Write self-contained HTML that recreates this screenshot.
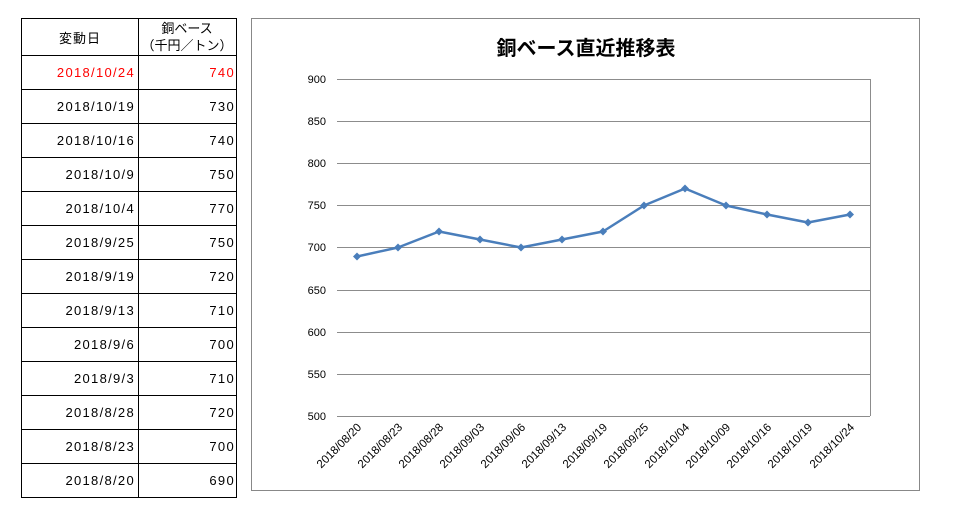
<!DOCTYPE html>
<html><head><meta charset="utf-8"><style>
body{margin:0;background:#fff;width:956px;height:522px;overflow:hidden;font-family:"Liberation Sans","Noto Sans CJK JP",sans-serif}
</style></head><body>
<svg width="956" height="522" xmlns="http://www.w3.org/2000/svg" style="position:absolute;left:0;top:0" font-family="Liberation Sans, Noto Sans CJK JP, sans-serif">
<g stroke="#000" stroke-width="1" fill="none">
<rect x="21.5" y="18.5" width="215" height="479"/>
<line x1="138.5" y1="18" x2="138.5" y2="497"/>
<line x1="21" y1="55.5" x2="237" y2="55.5"/>
<line x1="21" y1="89.5" x2="237" y2="89.5"/>
<line x1="21" y1="123.5" x2="237" y2="123.5"/>
<line x1="21" y1="157.5" x2="237" y2="157.5"/>
<line x1="21" y1="191.5" x2="237" y2="191.5"/>
<line x1="21" y1="225.5" x2="237" y2="225.5"/>
<line x1="21" y1="259.5" x2="237" y2="259.5"/>
<line x1="21" y1="293.5" x2="237" y2="293.5"/>
<line x1="21" y1="327.5" x2="237" y2="327.5"/>
<line x1="21" y1="361.5" x2="237" y2="361.5"/>
<line x1="21" y1="395.5" x2="237" y2="395.5"/>
<line x1="21" y1="429.5" x2="237" y2="429.5"/>
<line x1="21" y1="463.5" x2="237" y2="463.5"/>
</g>
<g font-size="13" fill="#000">
<text x="80" y="43" text-anchor="middle" letter-spacing="1">変動日</text>
<text x="187" y="33" text-anchor="middle">銅ベース</text>
<text x="187" y="50" text-anchor="middle">（千円／トン）</text>
<g text-anchor="end" letter-spacing="1.3">
<text x="135" y="77" fill="#f00">2018/10/24</text><text x="235" y="77" fill="#f00">740</text>
<text x="135" y="111">2018/10/19</text><text x="235" y="111">730</text>
<text x="135" y="145">2018/10/16</text><text x="235" y="145">740</text>
<text x="135" y="179">2018/10/9</text><text x="235" y="179">750</text>
<text x="135" y="213">2018/10/4</text><text x="235" y="213">770</text>
<text x="135" y="247">2018/9/25</text><text x="235" y="247">750</text>
<text x="135" y="281">2018/9/19</text><text x="235" y="281">720</text>
<text x="135" y="315">2018/9/13</text><text x="235" y="315">710</text>
<text x="135" y="349">2018/9/6</text><text x="235" y="349">700</text>
<text x="135" y="383">2018/9/3</text><text x="235" y="383">710</text>
<text x="135" y="417">2018/8/28</text><text x="235" y="417">720</text>
<text x="135" y="451">2018/8/23</text><text x="235" y="451">700</text>
<text x="135" y="485">2018/8/20</text><text x="235" y="485">690</text>
</g></g>
<rect x="251.5" y="18.5" width="668" height="472" fill="none" stroke="#888"/>
<text x="586" y="55" text-anchor="middle" font-size="20" font-weight="bold">銅ベース直近推移表</text>
<g stroke="#8c8c8c" stroke-width="1">
<line x1="337" y1="79.5" x2="870" y2="79.5"/>
<line x1="337" y1="121.5" x2="870" y2="121.5"/>
<line x1="337" y1="163.5" x2="870" y2="163.5"/>
<line x1="337" y1="205.5" x2="870" y2="205.5"/>
<line x1="337" y1="247.5" x2="870" y2="247.5"/>
<line x1="337" y1="290.5" x2="870" y2="290.5"/>
<line x1="337" y1="332.5" x2="870" y2="332.5"/>
<line x1="337" y1="374.5" x2="870" y2="374.5"/>
<line x1="337" y1="416.5" x2="870" y2="416.5"/>
<line x1="870.5" y1="79" x2="870.5" y2="416"/>
</g>
<g font-size="11" text-anchor="end" fill="#000">
<text x="326" y="83">900</text><text x="326" y="125">850</text><text x="326" y="167">800</text>
<text x="326" y="209">750</text><text x="326" y="251">700</text><text x="326" y="294">650</text>
<text x="326" y="336">600</text><text x="326" y="378">550</text><text x="326" y="420">500</text>
</g>
<g font-size="11.5" text-anchor="end" fill="#000">
<text transform="translate(362,428) rotate(-45)">2018/08/20</text>
<text transform="translate(403,428) rotate(-45)">2018/08/23</text>
<text transform="translate(444,428) rotate(-45)">2018/08/28</text>
<text transform="translate(485,428) rotate(-45)">2018/09/03</text>
<text transform="translate(526,428) rotate(-45)">2018/09/06</text>
<text transform="translate(567,428) rotate(-45)">2018/09/13</text>
<text transform="translate(608,428) rotate(-45)">2018/09/19</text>
<text transform="translate(649,428) rotate(-45)">2018/09/25</text>
<text transform="translate(690,428) rotate(-45)">2018/10/04</text>
<text transform="translate(731,428) rotate(-45)">2018/10/09</text>
<text transform="translate(772,428) rotate(-45)">2018/10/16</text>
<text transform="translate(813,428) rotate(-45)">2018/10/19</text>
<text transform="translate(855,428) rotate(-45)">2018/10/24</text>
</g>
<polyline fill="none" stroke="#4a7ebb" stroke-width="2.5" stroke-linejoin="round" points="357,256.5 398,247.5 439,231.5 480,239.5 521,247.5 562,239.5 603,231.5 644,205.5 685,188.5 726,205.5 767,214.5 808,222.5 850,214.5"/>
<g fill="#4a7ebb">
<path d="M357 252.5l4 4-4 4-4-4z"/><path d="M398 243.5l4 4-4 4-4-4z"/><path d="M439 227.5l4 4-4 4-4-4z"/>
<path d="M480 235.5l4 4-4 4-4-4z"/><path d="M521 243.5l4 4-4 4-4-4z"/><path d="M562 235.5l4 4-4 4-4-4z"/>
<path d="M603 227.5l4 4-4 4-4-4z"/><path d="M644 201.5l4 4-4 4-4-4z"/><path d="M685 184.5l4 4-4 4-4-4z"/>
<path d="M726 201.5l4 4-4 4-4-4z"/><path d="M767 210.5l4 4-4 4-4-4z"/><path d="M808 218.5l4 4-4 4-4-4z"/>
<path d="M850 210.5l4 4-4 4-4-4z"/>
</g>
</svg>
</body></html>
